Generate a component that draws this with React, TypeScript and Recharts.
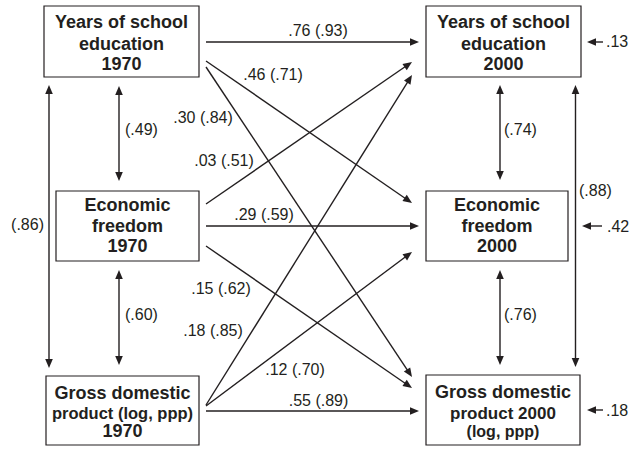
import React from 'react';
import { ScatterChart, Scatter, XAxis, YAxis, ReferenceLine, ReferenceArea } from 'recharts';

// ---------- data ----------
const nodeNames: string[][] = [
  ['Years of school', 'education', '1970'],
  ['Economic', 'freedom', '1970'],
  ['Gross domestic', 'product (log, ppp)', '1970'],
  ['Years of school', 'education', '2000'],
  ['Economic', 'freedom', '2000'],
  ['Gross domestic', 'product 2000', '(log, ppp)'],
];
const pathFrom = [0, 0, 0, 1, 1, 1, 2, 2, 2];
const pathTo = [3, 4, 5, 3, 4, 5, 3, 4, 5];
const pathLabels = ['.76 (.93)', '.46 (.71)', '.30 (.84)', '.03 (.51)', '.29 (.59)', '.15 (.62)', '.18 (.85)', '.12 (.70)', '.55 (.89)'];
const correlationPairs = [[0, 1], [1, 2], [0, 2], [3, 4], [4, 5], [3, 5]];
const correlationLabels = ['(.49)', '(.60)', '(.86)', '(.74)', '(.76)', '(.88)'];
const residualNodes = [3, 4, 5];
const residualLabels = ['.13', '.42', '.18'];

// ---------- layout (diagram geometry) ----------
const W = 638;
const H = 449;
const INK = '#231f20';
const FONT = '"Liberation Sans", Arial, Helvetica, sans-serif';

const nodeBoxes = [
  { x1: 44, x2: 199, y1: 6, y2: 77 },
  { x1: 56, x2: 199, y1: 191, y2: 261 },
  { x1: 46, x2: 199, y1: 376, y2: 445 },
  { x1: 426, x2: 581, y1: 6, y2: 77 },
  { x1: 426, x2: 568, y1: 191, y2: 261 },
  { x1: 426, x2: 580, y1: 375, y2: 445 },
];
const nodeTextX = [121.5, 127.5, 122.5, 503.5, 497, 503];
const nodeBaselines = [
  [28, 49.5, 70],
  [211, 231.5, 252],
  [399, 419, 437],
  [28, 49.5, 70],
  [211, 231.5, 252],
  [398, 419, 437],
];
const nodeFontSizes = [
  [18, 18, 18],
  [18, 18, 18],
  [18, 16.5, 18],
  [18, 18, 18],
  [18, 18, 18],
  [18, 17, 16],
];

const pathGeom = [
  [206, 42, 419, 42],
  [206, 61, 412, 203],
  [206, 67, 412, 377],
  [206, 204, 412, 62],
  [206, 226, 419, 226],
  [206, 246, 412, 388],
  [206, 405, 412, 75],
  [206, 406, 412, 252],
  [206, 411, 419, 411],
];
const pathLabelPos = [
  [318, 36], [273, 80], [203, 123], [224, 166], [264, 220],
  [221, 294], [213, 336], [295, 375], [318.5, 406],
];

const corrGeom = [
  [119, 86, 119, 181],
  [119, 270, 119, 365],
  [49, 85, 49, 368],
  [500, 85, 500, 180],
  [500, 270, 500, 365],
  [575.5, 85, 575.5, 367],
];
const corrLabelPos: [number, number, string][] = [
  [125, 135, 'start'],
  [125, 320, 'start'],
  [44, 230, 'end'],
  [504, 135, 'start'],
  [504, 320, 'start'],
  [579, 196, 'start'],
];

const residGeom = [
  [603, 42, 587, 42],
  [602, 226, 582, 226],
  [603, 410, 587, 410],
];
const residLabelPos = [
  [606, 47],
  [607, 232],
  [606, 416],
];

// ---------- shapes ----------
function arrowShape(both: boolean) {
  return (p: any) => {
    const { x1, y1, x2, y2 } = p;
    const dx = x2 - x1;
    const dy = y2 - y1;
    const len = Math.hypot(dx, dy) || 1;
    const ux = dx / len;
    const uy = dy / len;
    const L = 9;
    const HW = 3.8;
    const head = (tx: number, ty: number, vx: number, vy: number) =>
      `${tx},${ty} ${tx - vx * L - vy * HW},${ty - vy * L + vx * HW} ${tx - vx * L + vy * HW},${ty - vy * L - vx * HW}`;
    const sx = both ? x1 + ux * (L - 1) : x1;
    const sy = both ? y1 + uy * (L - 1) : y1;
    return (
      <g>
        <line x1={sx} y1={sy} x2={x2 - ux * (L - 1)} y2={y2 - uy * (L - 1)} stroke={INK} strokeWidth={1.4} />
        <polygon points={head(x2, y2, ux, uy)} fill={INK} />
        {both ? <polygon points={head(x1, y1, -ux, -uy)} fill={INK} /> : null}
      </g>
    );
  };
}

const nodeTextData = nodeNames.map((lines, i) => ({
  x: nodeTextX[i],
  y: (nodeBoxes[i].y1 + nodeBoxes[i].y2) / 2,
  lines,
  baselines: nodeBaselines[i],
  sizes: nodeFontSizes[i],
}));

const labelData = [
  ...pathLabels.map((t, i) => ({ x: pathLabelPos[i][0], y: pathLabelPos[i][1], text: t, anchor: 'middle' })),
  ...correlationLabels.map((t, i) => ({ x: corrLabelPos[i][0], y: corrLabelPos[i][1], text: t, anchor: corrLabelPos[i][2] })),
  ...residualLabels.map((t, i) => ({ x: residLabelPos[i][0], y: residLabelPos[i][1], text: t, anchor: 'start' })),
];

const NodeText = (p: any) => {
  const d = p.payload;
  const dy0 = p.cy - d.y; // offset from data y to pixel y (identity scale)
  return (
    <text textAnchor="middle" fill={INK} fontFamily={FONT} fontWeight="bold">
      {d.lines.map((ln: string, k: number) => (
        <tspan key={k} x={p.cx} y={d.baselines[k] + dy0} fontSize={d.sizes[k]}>
          {ln}
        </tspan>
      ))}
    </text>
  );
};

const LabelText = (p: any) => {
  const d = p.payload;
  return (
    <text x={p.cx} y={p.cy} textAnchor={d.anchor} fill={INK} fontFamily={FONT} fontSize={16}>
      {d.text}
    </text>
  );
};

export default function App() {
  return (
    <div style={{ position: 'absolute', left: 0, top: 0, background: '#fff' }}>
      <ScatterChart width={W} height={H} margin={{ top: 0, right: 0, bottom: 0, left: 0 }}>
        <XAxis type="number" dataKey="x" domain={[0, W]} hide allowDataOverflow />
        <YAxis type="number" dataKey="y" domain={[0, H]} hide reversed allowDataOverflow />
        {nodeBoxes.map((b, i) => (
          <ReferenceArea
            key={`box-${i}`}
            x1={b.x1}
            x2={b.x2}
            y1={b.y1}
            y2={b.y2}
            fill="#fff"
            fillOpacity={1}
            stroke={INK}
            strokeWidth={1.2}
            ifOverflow="visible"
          />
        ))}
        {pathGeom.map((g, i) => (
          <ReferenceLine
            key={`path-${pathFrom[i]}-${pathTo[i]}`}
            segment={[{ x: g[0], y: g[1] }, { x: g[2], y: g[3] }]}
            shape={arrowShape(false)}
            ifOverflow="visible"
          />
        ))}
        {corrGeom.map((g, i) => (
          <ReferenceLine
            key={`corr-${correlationPairs[i][0]}-${correlationPairs[i][1]}`}
            segment={[{ x: g[0], y: g[1] }, { x: g[2], y: g[3] }]}
            shape={arrowShape(true)}
            ifOverflow="visible"
          />
        ))}
        {residGeom.map((g, i) => (
          <ReferenceLine
            key={`resid-${residualNodes[i]}`}
            segment={[{ x: g[0], y: g[1] }, { x: g[2], y: g[3] }]}
            shape={arrowShape(false)}
            ifOverflow="visible"
          />
        ))}
        <Scatter data={nodeTextData} shape={NodeText} isAnimationActive={false} />
        <Scatter data={labelData} shape={LabelText} isAnimationActive={false} />
      </ScatterChart>
    </div>
  );
}
